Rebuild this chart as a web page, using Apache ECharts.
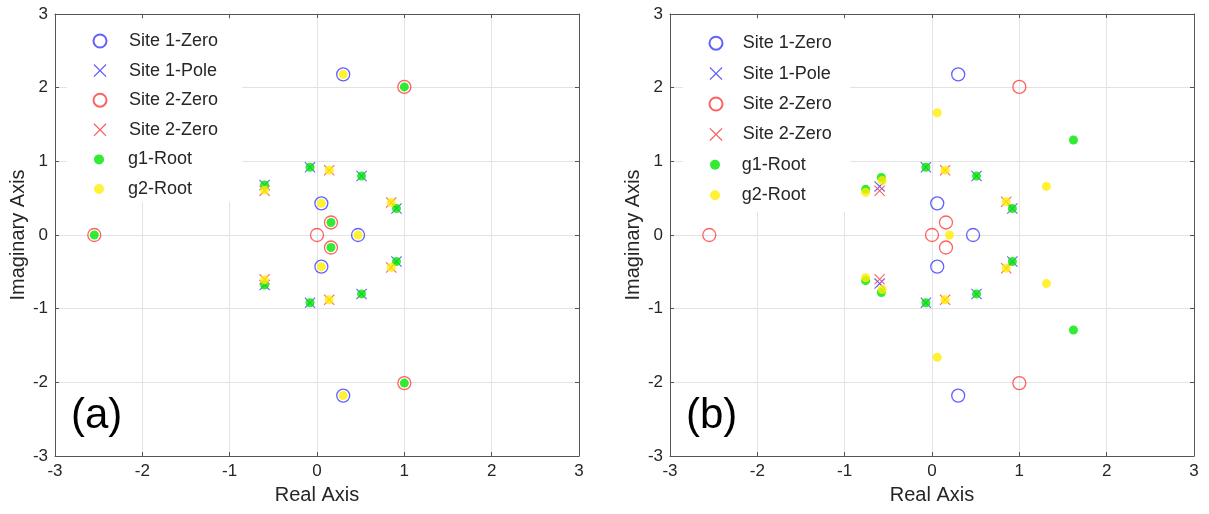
<!DOCTYPE html>
<html>
<head>
<meta charset="utf-8">
<script src="https://cdn.jsdelivr.net/npm/echarts@6/dist/echarts.min.js"></script>
<style>
html,body{margin:0;padding:0;background:#fff;}
#chart{width:1209px;height:514px;}
</style>
</head>
<body>
<div id="chart"></div>
<script>
// ---------- data ----------
var seriesNames = ['Site 1-Zero', 'Site 1-Pole', 'Site 2-Zero', 'Site 2-Pole', 'g1-Root', 'g2-Root'];
var legendLabels = ['Site 1-Zero', 'Site 1-Pole', 'Site 2-Zero', 'Site 2-Zero', 'g1-Root', 'g2-Root'];
var axisTicks = [-3, -2, -1, 0, 1, 2, 3];
var panelLabels = ['(a)', '(b)'];

// panel (a)
var site1ZeroA = [[0.30, 2.18], [0.30, -2.18], [0.05, 0.43], [0.05, -0.43], [0.47, 0]];
var site1PoleA = [[-0.60, 0.68], [-0.60, -0.68], [-0.08, 0.92], [-0.08, -0.92], [0.51, 0.80], [0.51, -0.80], [0.91, 0.36], [0.91, -0.36]];
var site2ZeroA = [[-2.55, 0], [1.00, 2.01], [1.00, -2.01], [0, 0], [0.16, 0.17], [0.16, -0.17]];
var site2PoleA = [[-0.60, 0.60], [-0.60, -0.60], [0.14, 0.88], [0.14, -0.88], [0.85, 0.44], [0.85, -0.44]];
var g1RootA = [[-0.60, 0.68], [-0.60, -0.68], [-0.08, 0.92], [-0.08, -0.92], [0.51, 0.80], [0.51, -0.80], [0.91, 0.36], [0.91, -0.36], [-2.55, 0], [1.00, 2.01], [1.00, -2.01], [0.16, 0.17], [0.16, -0.17]];
var g2RootA = [[-0.60, 0.61], [-0.60, -0.61], [0.14, 0.88], [0.14, -0.88], [0.85, 0.44], [0.85, -0.44], [0.30, 2.18], [0.30, -2.18], [0.05, 0.43], [0.05, -0.43], [0.47, 0]];

// panel (b)
var site1ZeroB = [[0.30, 2.18], [0.30, -2.18], [0.06, 0.43], [0.06, -0.43], [0.47, 0]];
var site1PoleB = [[-0.60, 0.66], [-0.60, -0.66], [-0.07, 0.92], [-0.07, -0.92], [0.51, 0.80], [0.51, -0.80], [0.92, 0.36], [0.92, -0.36]];
var site2ZeroB = [[-2.55, 0], [1.00, 2.01], [1.00, -2.01], [0, 0], [0.16, 0.17], [0.16, -0.17]];
var site2PoleB = [[-0.60, 0.60], [-0.60, -0.60], [0.15, 0.88], [0.15, -0.88], [0.85, 0.45], [0.85, -0.45]];
var g1RootB = [[-0.07, 0.92], [-0.07, -0.92], [0.51, 0.80], [0.51, -0.80], [0.92, 0.36], [0.92, -0.36], [-0.76, 0.62], [-0.76, -0.62], [-0.58, 0.78], [-0.58, -0.78], [1.62, 1.29], [1.62, -1.29]];
var g2RootB = [[0.15, 0.88], [0.15, -0.88], [0.85, 0.45], [0.85, -0.45], [-0.76, 0.58], [-0.76, -0.58], [-0.57, 0.74], [-0.57, -0.74], [0.06, 1.66], [0.06, -1.66], [1.31, 0.66], [1.31, -0.66], [0.20, 0]];

var panelData = [
  [site1ZeroA, site1PoleA, site2ZeroA, site2PoleA, g1RootA, g2RootA],
  [site1ZeroB, site1PoleB, site2ZeroB, site2PoleB, g1RootB, g2RootB]
];

// ---------- styles ----------
var FONT = '"Liberation Sans", Arial, sans-serif';
var BLUE = '#3a3aff', RED = '#ff3a3a', GREEN = '#00e600', YELLOW = '#ffee00';
var CROSS = 'path://M0,7L7,0L50,43L93,0L100,7L57,50L100,93L93,100L50,57L7,100L0,93L43,50Z';
var styles = [
  {symbol: 'circle', size: 13, itemStyle: {color: 'rgba(0,0,0,0)', borderColor: BLUE, borderWidth: 1.3}},
  {symbol: CROSS, size: 11, itemStyle: {color: BLUE}},
  {symbol: 'circle', size: 13, itemStyle: {color: 'rgba(0,0,0,0)', borderColor: RED, borderWidth: 1.3}},
  {symbol: CROSS, size: 11, itemStyle: {color: RED}},
  {symbol: 'circle', size: 9, itemStyle: {color: GREEN}},
  {symbol: 'circle', size: 9, itemStyle: {color: YELLOW}}
];

var grids = [
  {left: 55, top: 14, width: 524, height: 442},
  {left: 670, top: 14, width: 524, height: 442}
];

function mainAxis(gi, isX) {
  var a = {
    type: 'value', gridIndex: gi, min: -3, max: 3, interval: 1,
    axisLine: {show: true, onZero: false, lineStyle: {color: '#555', width: 1}},
    axisTick: {show: true, inside: true, length: 4, lineStyle: {color: '#555'}},
    axisLabel: {color: '#262626', fontSize: 17, fontFamily: FONT, margin: 7},
    splitLine: {show: true, lineStyle: {color: '#e3e3e3', width: 1}},
    nameLocation: 'middle',
    nameTextStyle: {color: '#262626', fontSize: 20, fontFamily: FONT}
  };
  if (isX) { a.position = 'bottom'; a.name = 'Real Axis'; a.nameGap = 29; }
  else { a.position = 'left'; a.name = 'Imaginary Axis'; a.nameGap = 24; }
  return a;
}
function boxAxis(gi, isX) {
  return {
    type: 'value', gridIndex: gi, min: -3, max: 3, interval: 1,
    position: isX ? 'top' : 'right',
    axisLine: {show: true, onZero: false, lineStyle: {color: '#555', width: 1}},
    axisTick: {show: true, inside: true, length: 4, lineStyle: {color: '#555'}},
    axisLabel: {show: false},
    splitLine: {show: false}
  };
}

var xAxes = [mainAxis(0, true), mainAxis(1, true), boxAxis(0, true), boxAxis(1, true)];
var yAxes = [mainAxis(0, false), mainAxis(1, false), boxAxis(0, false), boxAxis(1, false)];

var series = [];
for (var p = 0; p < 2; p++) {
  for (var s = 0; s < 6; s++) {
    series.push({
      type: 'scatter', name: seriesNames[s], xAxisIndex: p, yAxisIndex: p,
      symbol: styles[s].symbol, symbolSize: styles[s].size,
      itemStyle: styles[s].itemStyle, z: 2 + s,
      data: panelData[p][s], silent: true, animation: false
    });
  }
}

function fmt(name) { return legendLabels[seriesNames.indexOf(name)]; }
var legendCfg = [
  {iconX: 99, top1: 32, top2: 150.4, gap: 11.6, textX: 128},
  {iconX: 715, top1: 34.2, top2: 155.8, gap: 12.4, textX: 741.7}
];
var legends = [];
legendCfg.forEach(function (c) {
  legends.push({
    orient: 'vertical', left: c.iconX - 6.5, top: c.top1, itemGap: c.gap,
    itemWidth: 13, itemHeight: 13, padding: 0, selectedMode: false,
    data: seriesNames.slice(0, 4), formatter: fmt,
    textStyle: {fontSize: 18, fontFamily: FONT, color: '#262626', lineHeight: 18,
      padding: [0, 0, 0, c.textX - (c.iconX - 6.5) - 13 - 5]}
  });
  legends.push({
    orient: 'vertical', left: c.iconX - 5, top: c.top2, itemGap: c.gap,
    itemWidth: 10, itemHeight: 10, padding: 0, selectedMode: false,
    data: seriesNames.slice(4), formatter: fmt,
    textStyle: {fontSize: 18, fontFamily: FONT, color: '#262626', lineHeight: 18,
      padding: [0, 0, 0, c.textX - (c.iconX - 5) - 10 - 5]}
  });
});

var chart = echarts.init(document.getElementById('chart'), null, {renderer: 'canvas'});
chart.setOption({
  backgroundColor: '#fff',
  animation: false,
  grid: grids,
  xAxis: xAxes,
  yAxis: yAxes,
  legend: legends,
  series: series,
  graphic: [
    {type: 'rect', z: 1, silent: true, shape: {x: 67, y: 20, width: 175, height: 182}, style: {fill: '#fff'}},
    {type: 'rect', z: 1, silent: true, shape: {x: 683, y: 20, width: 167, height: 192}, style: {fill: '#fff'}},
    {type: 'text', z: 10, left: 71, top: 395, style: {text: panelLabels[0], font: '42px ' + FONT, fill: '#000'}},
    {type: 'text', z: 10, left: 686, top: 395, style: {text: panelLabels[1], font: '42px ' + FONT, fill: '#000'}}
  ]
});
</script>
</body>
</html>
